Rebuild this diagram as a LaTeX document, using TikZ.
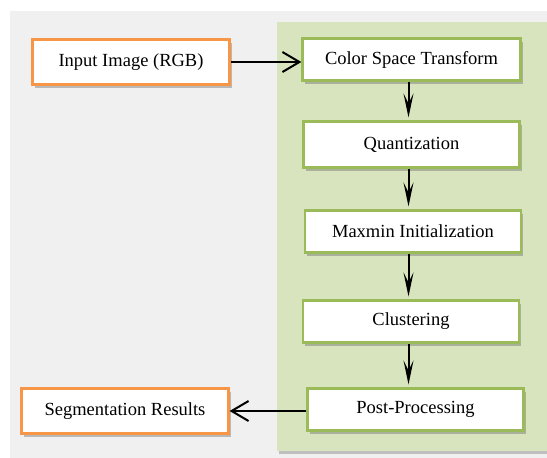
\documentclass[tikz,border=0pt]{standalone}
\usepackage{fontspec}
\setmainfont{Liberation Serif}
\usetikzlibrary{arrows.meta,shadows,calc}
\definecolor{bggray}{HTML}{F0F0F0}
\definecolor{panelgreen}{HTML}{D7E4BD}
\definecolor{greenline}{HTML}{9BBB59}
\definecolor{orangeline}{HTML}{F79646}
\tikzset{
  box/.style={draw, line width=2.2pt, fill=white, inner sep=0pt,
    font=\fontsize{18.5}{22}\selectfont,
    drop shadow={shadow xshift=2pt, shadow yshift=-3pt, opacity=0.4, fill=black!60}},
  gbox/.style={box, draw=greenline, minimum width=216pt, minimum height=42pt},
  obox/.style={box, draw=orangeline},
  harrow/.style={line width=2pt, -{Straight Barb[length=17pt,width=20pt,line width=2pt]}},
  varrow/.style={line width=2pt, -{Stealth[length=24pt,width=10pt,inset=10pt]}}
}
\begin{document}
\begin{tikzpicture}[x=1pt,y=-1pt]
\useasboundingbox (0,0) rectangle (547,458);
\fill[bggray] (10,11) rectangle (547,458);
\fill[black!25] (279,25) rectangle (547,454);
\fill[panelgreen] (277,22) rectangle (547,451);

\node[obox, minimum width=197pt, minimum height=45pt] (in) at (131,62) {Input Image (RGB)};
\node[obox, minimum width=207pt, minimum height=45pt] (seg) at (125,411) {Segmentation Results};

\node[gbox, minimum width=218pt] (cst) at (411.5,59.5) {Color Space Transform};
\node[gbox, minimum height=46pt] (qua) at (411.5,144.5) {Quantization};
\node[gbox] (max) at (413,231.5) {Maxmin Initialization};
\node[gbox] (clu) at (411,321.5) {Clustering};
\node[gbox] (pos) at (415.5,409.5) {Post-Processing};

\draw[harrow] (in.east) -- (in.east -| cst.west);
\draw[harrow] (seg.east -| pos.west) -- (seg.east);
\draw[varrow] ($(cst.south)+(-3,0)$) -- ($(cst.south |- qua.north)+(-3,-3)$);
\draw[varrow] ($(qua.south)+(-3,0)$) -- ($(qua.south |- max.north)+(-3,-3)$);
\draw[varrow] ($(max.south)+(-4.5,0)$) -- ($(max.south |- clu.north)+(-4.5,-3)$);
\draw[varrow] ($(clu.south)+(-2.5,0)$) -- ($(clu.south |- pos.north)+(-2.5,-3)$);
\end{tikzpicture}
\end{document}
